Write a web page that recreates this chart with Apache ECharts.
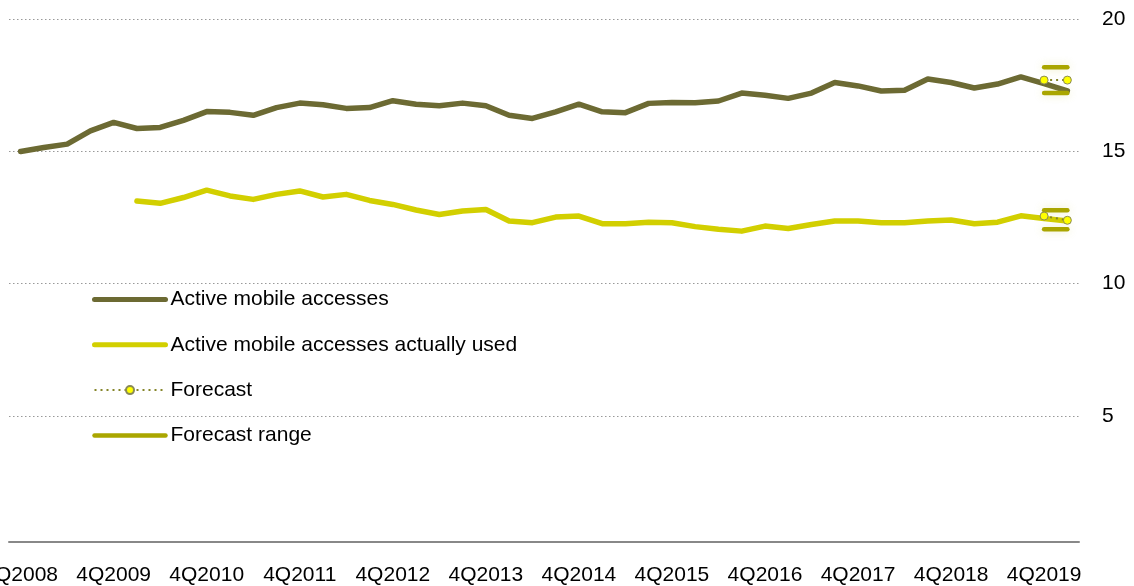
<!DOCTYPE html>
<html>
<head>
<meta charset="utf-8">
<script src="https://cdn.jsdelivr.net/npm/echarts@6/dist/echarts.min.js"></script>
<style>html,body{margin:0;padding:0;background:#fff}#c{width:1134px;height:586px}</style>
</head>
<body>
<div id="c"></div>
<script>
// Quarterly categories 4Q2008 .. 1Q2020
const categories = [];
for (let y = 2008, q = 4; categories.length < 46; ) {
  categories.push(q + 'Q' + y);
  q++; if (q > 4) { q = 1; y++; }
}
const yTicks = [5, 10, 15, 20];

const activeAccesses = [14.99, 15.14, 15.27, 15.77, 16.09, 15.86, 15.90, 16.17, 16.50, 16.47,
  16.36, 16.65, 16.82, 16.76, 16.62, 16.65, 16.91, 16.78, 16.72, 16.82,
  16.72, 16.36, 16.24, 16.49, 16.78, 16.49, 16.46, 16.81, 16.84, 16.83,
  16.90, 17.20, 17.12, 17.00, 17.20, 17.60, 17.47, 17.28, 17.31, 17.73,
  17.60, 17.39, 17.54, 17.81, 17.56, 17.28];

const activeUsed = [null, null, null, null, null, 13.12, 13.03, 13.25, 13.53, 13.31,
  13.18, 13.37, 13.50, 13.27, 13.37, 13.14, 12.99, 12.78, 12.61, 12.74,
  12.80, 12.36, 12.30, 12.51, 12.55, 12.26, 12.26, 12.32, 12.30, 12.15,
  12.05, 11.98, 12.17, 12.08, 12.23, 12.36, 12.36, 12.30, 12.30, 12.36,
  12.40, 12.26, 12.32, 12.56, 12.46, 12.36];

const forecastCats = ['4Q2019', '1Q2020'];
const forecastAccesses = [17.69, 17.69];
const forecastUsed = [12.55, 12.39];
const rangeAccessesHigh = [18.18, 18.18];
const rangeAccessesLow = [17.20, 17.20];
const rangeUsedHigh = [12.77, 12.77];
const rangeUsedLow = [12.05, 12.05];

const pair = arr => forecastCats.map((c, i) => [c, arr[i]]);

const C_DARK = '#6c6a33', C_YEL = '#d2cf00', C_RANGE = '#aaa600', C_DOT = '#85852a';
const FONT = 'Liberation Sans, Arial, sans-serif';
const NO_SYM = { color: 'rgba(0,0,0,0)', borderWidth: 0, borderColor: 'rgba(0,0,0,0)' };

const rangeSeries = (arr) => ({
  name: 'Forecast range', type: 'line', data: pair(arr), symbol: 'none',
  lineStyle: { color: C_RANGE, width: 4.5, cap: 'round', shadowColor: 'rgba(200,200,60,0.3)', shadowBlur: 8 },
  itemStyle: { color: C_RANGE }, z: 3
});
const fcSeries = (arr) => ({
  name: 'Forecast', type: 'line', data: pair(arr), symbol: 'circle', symbolSize: 8, showSymbol: true,
  lineStyle: { color: C_DOT, width: 2, type: [2, 4] },
  itemStyle: { color: '#ffff00', borderColor: '#8a8a55', borderWidth: 1 }, z: 5
});

const chart = echarts.init(document.getElementById('c'), null, { renderer: 'canvas' });
chart.setOption({
  animation: false,
  textStyle: { fontFamily: FONT },
  grid: { left: 9, right: 55, top: 19, bottom: 38, containLabel: false, outerBoundsMode: 'none' },
  legend: {
    orient: 'vertical', left: 87, top: 284,
    itemWidth: 71, itemHeight: 10, itemGap: 24.3,
    textStyle: { fontSize: 21, color: '#000', fontFamily: FONT },
    data: [
      { name: 'Active mobile accesses', itemStyle: NO_SYM, lineStyle: { color: C_DARK, width: 5, cap: 'round' } },
      { name: 'Active mobile accesses actually used', itemStyle: NO_SYM, lineStyle: { color: C_YEL, width: 5, cap: 'round' } },
      { name: 'Forecast', lineStyle: { color: C_DOT, width: 2, type: [2, 4] } },
      { name: 'Forecast range', itemStyle: NO_SYM, lineStyle: { color: C_RANGE, width: 4.5, cap: 'round', shadowBlur: 0 } }
    ],
    selectedMode: false
  },
  xAxis: {
    type: 'category', data: categories, boundaryGap: true,
    offset: -6,
    axisLine: { onZero: false, lineStyle: { color: '#888', width: 2 } },
    axisTick: { show: false },
    axisLabel: { interval: 3, fontSize: 21, color: '#000', margin: 23, fontFamily: FONT }
  },
  yAxis: {
    type: 'value', position: 'right', min: 0, max: 20, interval: 5,
    axisLine: { show: false }, axisTick: { show: false },
    axisLabel: { fontSize: 21, color: '#000', margin: 23, align: 'left', showMinLabel: false, fontFamily: FONT,
      formatter: v => (yTicks.indexOf(v) >= 0 ? String(v) : '') },
    splitLine: { showMinLine: false, lineStyle: { color: '#999', type: [1.5, 2.5], width: 1.2 } }
  },
  series: [
    { name: 'Active mobile accesses', type: 'line', data: activeAccesses, symbol: 'none',
      lineStyle: { color: C_DARK, width: 5.5, cap: 'round', join: 'round' }, itemStyle: { color: C_DARK }, z: 2 },
    { name: 'Active mobile accesses actually used', type: 'line', data: activeUsed, symbol: 'none',
      lineStyle: { color: C_YEL, width: 5.5, cap: 'round', join: 'round' }, itemStyle: { color: C_YEL }, z: 2 },
    fcSeries(forecastAccesses),
    fcSeries(forecastUsed),
    rangeSeries(rangeAccessesHigh),
    rangeSeries(rangeAccessesLow),
    rangeSeries(rangeUsedHigh),
    rangeSeries(rangeUsedLow)
  ]
});
</script>
</body>
</html>
